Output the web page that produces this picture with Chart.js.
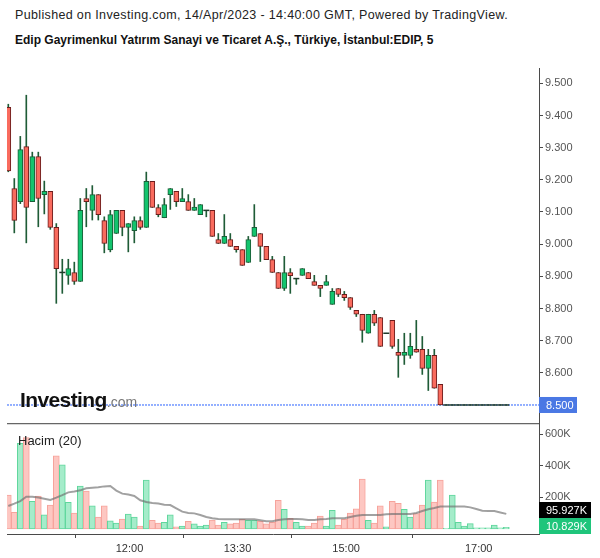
<!DOCTYPE html>
<html>
<head>
<meta charset="utf-8">
<script src="https://cdn.jsdelivr.net/npm/chart.js@4.4.0/dist/chart.umd.min.js"></script>
<style>
  body { margin: 0; background: #fff; width: 600px; height: 558px; overflow: hidden; position: relative;
         font-family: "Liberation Sans", Arial, sans-serif; }
  canvas { position: absolute; left: 0; }
  #priceChart { top: 0; }
  #volChart { top: 423px; }
  .t1 { position: absolute; left: 15px; top: 9px; font-size: 12.5px; line-height: 12px; color: #222; white-space: nowrap; letter-spacing: 0.35px; }
  .t2 { position: absolute; left: 15px; top: 34px; font-size: 12px; line-height: 12px; font-weight: bold; color: #111; white-space: nowrap; }
  .logo { position: absolute; left: 20px; top: 389px; font-size: 21px; line-height: 21px; font-weight: bold;
          letter-spacing: -0.6px; color: #111; white-space: nowrap; }
  .logo span { font-size: 14px; font-weight: normal; letter-spacing: 0; color: #777; }
  .hacim { position: absolute; left: 18px; top: 434px; font-size: 13px; line-height: 13px; color: #222; }
</style>
</head>
<body>
<div class="t1">Published on Investing.com, 14/Apr/2023 - 14:40:00 GMT, Powered by TradingView.</div>
<div class="t2">Edip Gayrimenkul Yatırım Sanayi ve Ticaret A.Ş., Türkiye, İstanbul:EDIP, 5</div>
<canvas id="priceChart" width="600" height="423"></canvas>
<canvas id="volChart" width="600" height="135"></canvas>
<div class="logo">Investing<span>.com</span></div>
<div class="hacim">Hacim (20)</div>
<script>
// 5 dakikalık mumlar (okunan değerler)
const opens = [9.425, 9.173, 9.132, 9.303, 9.132, 9.272, 9.154, 9.164, 9.052, 8.912,
  8.903, 8.912, 8.884, 9.142, 9.105, 9.154, 9.073, 8.982, 9.033, 9.105,
  9.052, 9.042, 9.073, 9.052, 9.195, 9.114, 9.082, 9.154, 9.164, 9.132,
  9.132, 9.105, 9.092, 9.105, 9.105, 9.014, 9.002, 9.014, 8.993, 8.983,
  8.943, 9.024, 9.033, 8.993, 8.952, 8.912, 8.862, 8.912, 8.893, 8.903,
  8.912, 8.884, 8.872, 8.872, 8.813, 8.862, 8.844, 8.834, 8.794, 8.782,
  8.723, 8.782, 8.772, 8.723, 8.763, 8.664, 8.654, 8.654, 8.673, 8.673,
  8.614, 8.654, 8.564, 8.5, 8.5, 8.5, 8.5, 8.5, 8.5, 8.5,
  8.5, 8.5, 8.5, 8.5];
const highs = [9.435, 9.204, 9.335, 9.463, 9.286, 9.286, 9.196, 9.164, 9.064, 8.953,
  8.953, 8.944, 9.142, 9.173, 9.182, 9.154, 9.085, 9.105, 9.105, 9.105,
  9.064, 9.085, 9.085, 9.224, 9.195, 9.123, 9.142, 9.173, 9.164, 9.173,
  9.154, 9.142, 9.123, 9.105, 9.105, 9.033, 9.092, 9.033, 8.993, 8.983,
  9.024, 9.123, 9.033, 8.993, 8.962, 8.912, 8.962, 8.924, 8.893, 8.924,
  8.912, 8.903, 8.872, 8.903, 8.862, 8.862, 8.853, 8.834, 8.794, 8.782,
  8.782, 8.794, 8.772, 8.723, 8.763, 8.704, 8.723, 8.723, 8.763, 8.713,
  8.673, 8.673, 8.564, 8.5, 8.5, 8.5, 8.5, 8.5, 8.5, 8.5,
  8.5, 8.5, 8.5, 8.5];
const lows = [9.225, 9.035, 9.126, 9.004, 9.132, 9.054, 9.094, 9.046, 8.816, 8.847,
  8.875, 8.875, 8.884, 9.054, 9.075, 9.075, 8.973, 8.976, 9.033, 9.026,
  8.976, 9.004, 9.046, 9.052, 9.114, 9.085, 9.082, 9.108, 9.117, 9.132,
  9.105, 9.105, 9.092, 9.085, 9.024, 9.002, 9.002, 8.993, 8.975, 8.934,
  8.943, 9.024, 8.946, 8.952, 8.912, 8.862, 8.856, 8.847, 8.875, 8.903,
  8.893, 8.872, 8.837, 8.872, 8.813, 8.837, 8.825, 8.797, 8.775, 8.695,
  8.723, 8.747, 8.682, 8.723, 8.676, 8.586, 8.626, 8.645, 8.664, 8.595,
  8.545, 8.552, 8.5, 8.5, 8.5, 8.5, 8.5, 8.5, 8.5, 8.5,
  8.5, 8.5, 8.5, 8.5];
const closes = [9.228, 9.074, 9.294, 9.114, 9.272, 9.142, 9.164, 9.052, 8.924, 8.912,
  8.924, 8.884, 9.105, 9.132, 9.154, 9.092, 9.002, 9.092, 9.105, 9.052,
  9.064, 9.073, 9.052, 9.195, 9.114, 9.092, 9.123, 9.173, 9.132, 9.142,
  9.105, 9.115, 9.123, 9.105, 9.024, 9.002, 9.024, 8.993, 8.983, 8.934,
  9.014, 9.052, 8.993, 8.952, 8.912, 8.862, 8.912, 8.902, 8.893, 8.924,
  8.893, 8.872, 8.862, 8.884, 8.853, 8.844, 8.834, 8.803, 8.782, 8.732,
  8.782, 8.754, 8.682, 8.723, 8.682, 8.654, 8.664, 8.682, 8.664, 8.614,
  8.654, 8.552, 8.5, 8.5, 8.5, 8.5, 8.5, 8.5, 8.5, 8.5,
  8.5, 8.5, 8.5, 8.5];
// hacim ve 20'lik ortalama
const volumes = [215000, 106000, 543000, 579000, 175000, 209000, 89000, 152000, 463000, 406000,
  169000, 101000, 272000, 241000, 146000, 76000, 146000, 51000, 38000, 63000,
  95000, 76000, 19000, 310000, 55000, 38000, 42000, 89000, 13000, 19000,
  49000, 32000, 19000, 25000, 57000, 25000, 42000, 32000, 38000, 61000,
  55000, 55000, 49000, 32000, 42000, 182000, 125000, 68000, 42000, 19000,
  19000, 38000, 82000, 19000, 118000, 25000, 61000, 101000, 127000, 317000,
  55000, 38000, 146000, 13000, 175000, 163000, 125000, 76000, 97000, 152000,
  310000, 171000, 310000, 4000, 215000, 42000, 19000, 34000, 8000, 8000,
  8000, 25000, 8000, 10829];
const volMA = [146000, 161000, 177000, 205000, 205000, 199000, 192000, 184000, 199000, 215000,
  232000, 237000, 245000, 258000, 262000, 264000, 270000, 272000, 243000, 224000,
  218000, 209000, 182000, 171000, 165000, 161000, 154000, 152000, 131000, 110000,
  101000, 99000, 89000, 76000, 68000, 63000, 61000, 61000, 61000, 61000,
  61000, 61000, 55000, 49000, 49000, 57000, 61000, 63000, 63000, 61000,
  57000, 57000, 61000, 63000, 68000, 68000, 68000, 76000, 84000, 89000,
  89000, 89000, 89000, 93000, 95000, 95000, 95000, 95000, 101000, 114000,
  125000, 133000, 142000, 142000, 142000, 142000, 142000, 137000, 127000, 116000,
  114000, 114000, 105000, 95927];
const timeLabels = ["12:00", "13:30", "15:00", "17:00"];
const timeTickBars = [20.2, 38.2, 56.3, 78.4];
const priceTicks = [9.5, 9.4, 9.3, 9.2, 9.1, 9.0, 8.9, 8.8, 8.7, 8.6, 8.5];
const volTicks = [200000, 400000, 600000];

const upFill = "#13c46e", upLine = "#1b5e38";
const downFill = "#f96b5e", downLine = "#6b1d1d";
const wickColor = "#1f5c37";
const axisColor = "#4a4a4a";
const lastClose = closes[closes.length - 1];
const lastVol = volumes[volumes.length - 1];
const lastMA = volMA[volMA.length - 1];

const xMin = -0.217, xMax = 88.45;
const isUp = opens.map((o, i) => closes[i] >= o);
const idx = opens.map((_, i) => i);
const dojiIdx = idx.filter(i => opens[i] === closes[i]);

Chart.defaults.font.family = '"Liberation Sans", Arial, sans-serif';
Chart.defaults.animation = false;

function fixWidth(scale) {
  scale.width = 61;
  scale.paddingTop = 0;
  scale.paddingBottom = 0;
}

const priceLine = {
  id: "priceLine",
  beforeDatasetsDraw(chart) {
    const { ctx, chartArea, scales } = chart;
    const y = scales.y.getPixelForValue(lastClose);
    ctx.save();
    ctx.strokeStyle = "#2962ff";
    ctx.lineWidth = 1;
    ctx.setLineDash([2, 1]);
    ctx.beginPath();
    ctx.moveTo(chartArea.left, y);
    ctx.lineTo(chartArea.right, y);
    ctx.stroke();
    ctx.restore();
  },
  afterDraw(chart) {
    const { ctx, chartArea, scales } = chart;
    const y = scales.y.getPixelForValue(lastClose);
    ctx.save();
    ctx.fillStyle = "#4a78e4";
    ctx.fillRect(chartArea.right, y - 8, 38, 16);
    ctx.fillStyle = "#fff";
    ctx.font = '11px "Liberation Sans", Arial';
    ctx.textBaseline = "middle";
    ctx.fillText(lastClose.toFixed(3), chartArea.right + 7, y + 0.5);
    ctx.restore();
  }
};

const volExtras = {
  id: "volExtras",
  afterDraw(chart) {
    const { ctx, chartArea, scales } = chart;
    ctx.save();
    // panel ayırıcı çizgi
    ctx.strokeStyle = "#666";
    ctx.lineWidth = 1.3;
    ctx.beginPath();
    ctx.moveTo(chartArea.left, 0.6);
    ctx.lineTo(chartArea.right, 0.6);
    ctx.stroke();

    ctx.font = '11px "Liberation Sans", Arial';
    ctx.textBaseline = "middle";
    let gy = scales.y.getPixelForValue(lastVol) - 8;
    gy = Math.min(gy, chartArea.bottom - 16);
    ctx.fillStyle = "#1fc57b";
    ctx.fillRect(chartArea.right, gy, 52, 16);
    ctx.fillStyle = "#fff";
    ctx.fillText((lastVol / 1000).toFixed(3) + "K", chartArea.right + 7, gy + 8.5);

    let my = scales.y.getPixelForValue(lastMA) - 8;
    my = Math.min(my, gy - 16);
    ctx.fillStyle = "#000";
    ctx.fillRect(chartArea.right, my, 52, 16);
    ctx.fillStyle = "#fff";
    ctx.fillText((lastMA / 1000).toFixed(3) + "K", chartArea.right + 7, my + 8.5);
    ctx.restore();
  }
};

new Chart(document.getElementById("priceChart"), {
  type: "bar",
  data: {
    datasets: [
      {
        type: "line",
        label: "doji",
        data: dojiIdx.map(i => ({ x: i, y: opens[i] })),
        showLine: false,
        pointStyle: "line",
        pointRadius: 3,
        pointBorderWidth: 1.5,
        pointBorderColor: "#203a2a",
        clip: 0,
        order: 0
      },
      {
        label: "govde",
        data: idx.map(i => ({ x: i, y: [opens[i], closes[i]] })),
        backgroundColor: isUp.map(u => (u ? upFill : downFill)),
        borderColor: isUp.map(u => (u ? upLine : downLine)),
        borderWidth: 1,
        borderSkipped: false,
        barThickness: 5,
        grouped: false,
        clip: 0,
        order: 1
      },
      {
        label: "fitil",
        data: idx.map(i => ({ x: i, y: [lows[i], highs[i]] })),
        backgroundColor: wickColor,
        borderWidth: 0,
        barThickness: 1,
        grouped: false,
        clip: 0,
        order: 2
      }
    ]
  },
  options: {
    responsive: false,
    layout: { autoPadding: false, padding: { top: 68, left: 7, right: 0, bottom: 0 } },
    plugins: { legend: { display: false }, tooltip: { enabled: false } },
    scales: {
      x: { type: "linear", display: false, min: xMin, max: xMax, offset: false },
      y: {
        position: "right",
        min: 8.444,
        max: 9.5476,
        beginAtZero: false,
        afterBuildTicks: s => { s.ticks = priceTicks.map(v => ({ value: v })); },
        afterFit: fixWidth,
        ticks: { callback: v => v.toFixed(3), color: "#555", font: { size: 11 }, padding: 2 },
        grid: { drawOnChartArea: false, tickLength: 4, tickColor: axisColor },
        border: { display: true, color: axisColor }
      }
    }
  },
  plugins: [priceLine]
});

new Chart(document.getElementById("volChart"), {
  type: "bar",
  data: {
    datasets: [
      {
        type: "line",
        label: "MA20",
        data: idx.map(i => ({ x: i, y: volMA[i] })),
        borderColor: "rgba(110,110,110,0.65)",
        borderWidth: 2,
        pointRadius: 0,
        tension: 0,
        clip: 0,
        order: 0
      },
      {
        label: "Hacim",
        data: idx.map(i => ({ x: i, y: volumes[i] })),
        backgroundColor: isUp.map(u => (u ? "#a5ecca" : "#fdc7c2")),
        borderColor: isUp.map(u => (u ? "#5fd69c" : "#f6a39b")),
        borderWidth: 1,
        borderSkipped: false,
        barThickness: 6,
        grouped: false,
        clip: 0,
        order: 1
      }
    ]
  },
  options: {
    responsive: false,
    layout: { autoPadding: false, padding: { top: 0, left: 7, right: 0, bottom: 0 } },
    plugins: { legend: { display: false }, tooltip: { enabled: false } },
    scales: {
      x: {
        type: "linear",
        min: xMin,
        max: xMax,
        offset: false,
        afterBuildTicks: s => { s.ticks = timeTickBars.map(v => ({ value: v })); },
        afterFit: s => { s.height = 24; s.paddingLeft = 0; s.paddingRight = 0; },
        ticks: { callback: (v, i) => timeLabels[i], color: "#333", font: { size: 11 }, padding: 4, maxRotation: 0, autoSkip: false },
        grid: { drawOnChartArea: false, tickLength: 4, tickColor: axisColor },
        border: { display: true, color: axisColor }
      },
      y: {
        position: "right",
        min: -31700,
        max: 671600,
        afterBuildTicks: s => { s.ticks = volTicks.map(v => ({ value: v })); },
        afterFit: fixWidth,
        ticks: { callback: v => v / 1000 + "K", color: "#555", font: { size: 11 }, padding: 2 },
        grid: { drawOnChartArea: false, tickLength: 4, tickColor: axisColor },
        border: { display: true, color: axisColor }
      }
    }
  },
  plugins: [volExtras]
});
</script>
</body>
</html>
